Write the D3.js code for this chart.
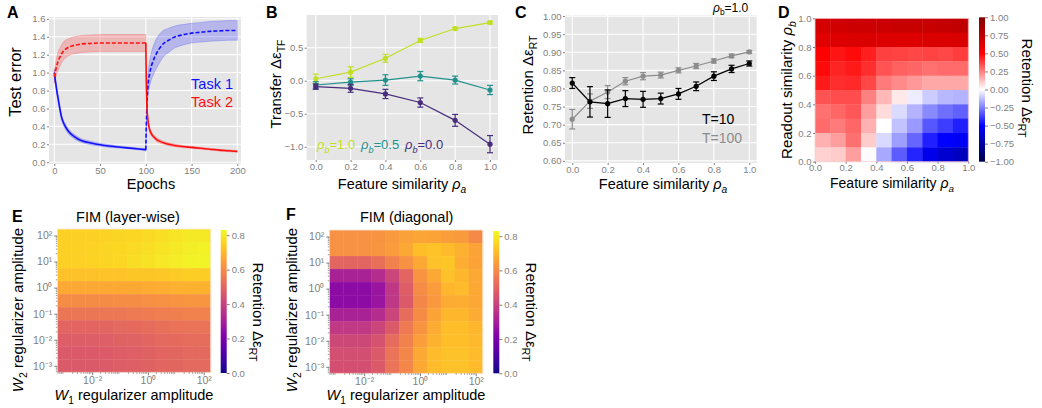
<!DOCTYPE html>
<html>
<head>
<meta charset="utf-8">
<script src="https://cdn.jsdelivr.net/npm/d3@7"></script>
<style>
  body { margin: 0; background: #fff; }
  text { font-family: "Liberation Sans", Arial, sans-serif; }
</style>
</head>
<body>
<svg id="fig" width="1042" height="408"></svg>
<script>
// ---------- Panel A: test error over epochs ----------
const epochsPhase1 = [0, 1, 2, 3, 4, 5, 6, 8, 10, 12, 15, 20, 25, 30, 40, 50, 60, 70, 80, 90, 100];
const task1Phase1 = [1.0, 0.92, 0.85, 0.78, 0.72, 0.66, 0.6, 0.5, 0.44, 0.4, 0.35, 0.3, 0.265, 0.24, 0.215, 0.195, 0.18, 0.17, 0.16, 0.15, 0.14];
const task1Phase1Sd = [0.04, 0.04, 0.04, 0.04, 0.035, 0.035, 0.035, 0.03, 0.03, 0.03, 0.03, 0.025, 0.025, 0.02, 0.02, 0.015, 0.015, 0.012, 0.01, 0.01, 0.01];
const task2Phase1 = [0.95, 1.0, 1.05, 1.09, 1.12, 1.15, 1.17, 1.21, 1.24, 1.26, 1.28, 1.3, 1.31, 1.32, 1.325, 1.33, 1.33, 1.33, 1.33, 1.33, 1.33];
const task2Phase1Sd = [0.07, 0.08, 0.09, 0.1, 0.1, 0.1, 0.1, 0.1, 0.1, 0.1, 0.095, 0.095, 0.095, 0.095, 0.095, 0.095, 0.095, 0.095, 0.095, 0.095, 0.095];
const epochsPhase2 = [100, 100.5, 101, 102, 103, 104, 105, 106, 108, 110, 112, 115, 120, 125, 130, 140, 150, 160, 170, 180, 190, 200];
const task1Phase2 = [0.14, 0.4, 0.6, 0.8, 0.92, 0.98, 1.03, 1.07, 1.13, 1.18, 1.22, 1.27, 1.33, 1.36, 1.39, 1.42, 1.44, 1.45, 1.46, 1.465, 1.47, 1.47];
const task1Phase2Sd = [0.02, 0.05, 0.1, 0.12, 0.13, 0.14, 0.145, 0.15, 0.16, 0.165, 0.165, 0.16, 0.145, 0.135, 0.125, 0.115, 0.11, 0.11, 0.11, 0.11, 0.11, 0.11];
const task2Phase2 = [1.33, 0.9, 0.66, 0.5, 0.42, 0.37, 0.34, 0.32, 0.29, 0.27, 0.25, 0.235, 0.215, 0.2, 0.19, 0.175, 0.165, 0.155, 0.145, 0.135, 0.128, 0.12];
const task2Phase2Sd = [0.01, 0.02, 0.03, 0.03, 0.03, 0.025, 0.025, 0.025, 0.02, 0.02, 0.02, 0.02, 0.015, 0.015, 0.015, 0.012, 0.01, 0.01, 0.01, 0.01, 0.01, 0.01];
const epochTicks = [0, 50, 100, 150, 200];
const errorTicks = [0, 0.2, 0.4, 0.6, 0.8, 1.0, 1.2, 1.4, 1.6];
const taskNames = ['Task 1', 'Task 2'];

// ---------- Panel B: transfer vs feature similarity ----------
const featureSimB = [0, 0.2, 0.4, 0.6, 0.8, 1.0];
const transferRho10 = [0.03, 0.13, 0.34, 0.61, 0.79, 0.88];
const transferRho10Err = [0.07, 0.08, 0.06, 0.03, 0.02, 0.02];
const transferRho05 = [-0.065, -0.02, 0.01, 0.07, 0.01, -0.14];
const transferRho05Err = [0.05, 0.05, 0.08, 0.07, 0.06, 0.07];
const transferRho00 = [-0.09, -0.115, -0.2, -0.33, -0.6, -0.96];
const transferRho00Err = [0.04, 0.06, 0.07, 0.07, 0.09, 0.13];
const readoutLabels = ['1.0', '0.5', '0.0'];
const simTicks = [0, 0.2, 0.4, 0.6, 0.8, 1.0];
const transferTicks = [-1.0, -0.5, 0.0, 0.5];

// ---------- Panel C: retention vs feature similarity ----------
const featureSimC = [0, 0.1, 0.2, 0.3, 0.4, 0.5, 0.6, 0.7, 0.8, 0.9, 1.0];
const retentionT10 = [0.815, 0.763, 0.758, 0.772, 0.77, 0.772, 0.785, 0.806, 0.834, 0.854, 0.869];
const retentionT10Err = [0.015, 0.042, 0.038, 0.022, 0.022, 0.015, 0.015, 0.012, 0.012, 0.01, 0.007];
const retentionT100 = [0.715, 0.765, 0.79, 0.82, 0.834, 0.837, 0.85, 0.862, 0.876, 0.89, 0.901];
const retentionT100Err = [0.027, 0.02, 0.018, 0.01, 0.01, 0.008, 0.007, 0.007, 0.006, 0.005, 0.004];
const retentionTicksC = [0.6, 0.65, 0.7, 0.75, 0.8, 0.85, 0.9, 0.95, 1.0];
const horizonLabels = ['T=10', 'T=100'];

// ---------- Panel D: retention over (rho_a, rho_b) ----------
const featureBins = [0, 0.1, 0.2, 0.3, 0.4, 0.5, 0.6, 0.7, 0.8, 0.9];
const readoutBins = [0.9, 0.8, 0.7, 0.6, 0.5, 0.4, 0.3, 0.2, 0.1, 0.0];
const retentionGrid = [
  [0.67, 0.68, 0.70, 0.70, 0.70, 0.72, 0.72, 0.72, 0.73, 0.75],
  [0.62, 0.63, 0.64, 0.64, 0.63, 0.63, 0.63, 0.64, 0.64, 0.65],
  [0.50, 0.46, 0.48, 0.44, 0.375, 0.37, 0.36, 0.37, 0.36, 0.38],
  [0.48, 0.43, 0.45, 0.41, 0.34, 0.31, 0.30, 0.28, 0.29, 0.29],
  [0.45, 0.41, 0.42, 0.36, 0.26, 0.23, 0.20, 0.17, 0.17, 0.17],
  [0.34, 0.35, 0.35, 0.25, 0.14, 0.045, -0.035, -0.10, -0.14, -0.15],
  [0.28, 0.30, 0.33, 0.19, 0.07, -0.07, -0.15, -0.23, -0.28, -0.31],
  [0.29, 0.26, 0.30, 0.155, 0.0, -0.12, -0.20, -0.33, -0.38, -0.44],
  [0.155, 0.19, 0.28, 0.10, -0.075, -0.19, -0.30, -0.44, -0.50, -0.53],
  [0.09, 0.10, 0.19, -0.005, -0.17, -0.32, -0.43, -0.56, -0.63, -0.68]
];
const gridTicksD = [0, 0.2, 0.4, 0.6, 0.8, 1.0];
const retentionTicksD = [-1.0, -0.75, -0.5, -0.25, 0, 0.25, 0.5, 0.75, 1.0];

// ---------- Panels E, F: FIM regularizer sweeps ----------
const w1Exponents = [-3, -2.5, -2, -1.5, -1, -0.5, 0, 0.5, 1, 1.5, 2];
const w2Exponents = [2, 1.5, 1, 0.5, 0, -0.5, -1, -1.5, -2, -2.5, -3];
const fimLayerwise = [
  [0.75, 0.75, 0.75, 0.755, 0.76, 0.765, 0.77, 0.78, 0.79, 0.80, 0.80],
  [0.75, 0.75, 0.755, 0.76, 0.765, 0.77, 0.78, 0.79, 0.80, 0.81, 0.815],
  [0.75, 0.75, 0.755, 0.76, 0.765, 0.775, 0.785, 0.795, 0.805, 0.815, 0.82],
  [0.72, 0.72, 0.72, 0.725, 0.725, 0.73, 0.73, 0.735, 0.74, 0.745, 0.745],
  [0.665, 0.665, 0.665, 0.665, 0.67, 0.67, 0.675, 0.68, 0.685, 0.69, 0.69],
  [0.60, 0.60, 0.60, 0.60, 0.605, 0.605, 0.61, 0.615, 0.62, 0.625, 0.625],
  [0.545, 0.545, 0.545, 0.55, 0.55, 0.555, 0.56, 0.565, 0.57, 0.575, 0.575],
  [0.50, 0.50, 0.50, 0.505, 0.51, 0.515, 0.52, 0.53, 0.535, 0.54, 0.54],
  [0.48, 0.48, 0.48, 0.485, 0.49, 0.495, 0.50, 0.51, 0.515, 0.52, 0.52],
  [0.47, 0.47, 0.47, 0.475, 0.48, 0.485, 0.49, 0.50, 0.505, 0.51, 0.51],
  [0.47, 0.47, 0.47, 0.475, 0.48, 0.485, 0.49, 0.50, 0.505, 0.51, 0.51]
];
const fimDiagonal = [
  [0.615, 0.615, 0.615, 0.62, 0.635, 0.65, 0.66, 0.655, 0.645, 0.635, 0.595],
  [0.615, 0.615, 0.615, 0.625, 0.64, 0.665, 0.715, 0.725, 0.71, 0.685, 0.655],
  [0.50, 0.50, 0.50, 0.53, 0.575, 0.615, 0.665, 0.72, 0.73, 0.68, 0.655],
  [0.31, 0.31, 0.31, 0.34, 0.41, 0.50, 0.62, 0.665, 0.72, 0.70, 0.665],
  [0.24, 0.24, 0.24, 0.27, 0.37, 0.48, 0.60, 0.64, 0.70, 0.71, 0.665],
  [0.24, 0.24, 0.24, 0.27, 0.37, 0.47, 0.59, 0.63, 0.675, 0.68, 0.665],
  [0.31, 0.31, 0.31, 0.34, 0.41, 0.52, 0.60, 0.655, 0.70, 0.70, 0.675],
  [0.375, 0.375, 0.375, 0.41, 0.47, 0.555, 0.62, 0.675, 0.715, 0.715, 0.70],
  [0.42, 0.42, 0.42, 0.45, 0.52, 0.575, 0.645, 0.69, 0.715, 0.715, 0.705],
  [0.44, 0.44, 0.44, 0.47, 0.54, 0.59, 0.665, 0.71, 0.72, 0.72, 0.71],
  [0.44, 0.44, 0.44, 0.47, 0.54, 0.59, 0.665, 0.71, 0.72, 0.72, 0.71]
];
const yLogTicks = [-3, -2, -1, 0, 1, 2];
const yLogLabels = ['10⁻³', '10⁻²', '10⁻¹', '10⁰', '10¹', '10²'];
const xLogTicks = [-2, 0, 2];
const xLogLabels = ['10⁻²', '10⁰', '10²'];
const fimTicks = [0, 0.2, 0.4, 0.6, 0.8];

// ---------- helpers ----------
const svg = d3.select('#fig');
const defs = svg.append('defs');
const GREY = '#7f7f7f';

function styleAxis(sel, size = 9.5) {
  sel.select('.domain').remove();
  sel.attr('font-family', '"DejaVu Sans", Verdana, sans-serif').attr('font-size', size);
  sel.selectAll('.tick line').attr('stroke', GREY);
  sel.selectAll('.tick text').attr('fill', GREY);
}

function ggBackground(x, y, xTicks, yTicks) {
  const [x0, x1] = x.range(), [y0, y1] = y.range();
  svg.append('rect').attr('x', x0).attr('y', y1)
    .attr('width', x1 - x0).attr('height', y0 - y1).attr('fill', '#e5e5e5');
  svg.append('g').selectAll('line').data(xTicks).join('line')
    .attr('x1', d => x(d)).attr('x2', d => x(d)).attr('y1', y1).attr('y2', y0)
    .attr('stroke', '#fff').attr('stroke-width', 1.1);
  svg.append('g').selectAll('line').data(yTicks).join('line')
    .attr('y1', d => y(d)).attr('y2', d => y(d)).attr('x1', x0).attr('x2', x1)
    .attr('stroke', '#fff').attr('stroke-width', 1.1);
}

function axes(x, y, xTicks, yTicks, fx, fy) {
  svg.append('g').attr('transform', `translate(0,${y.range()[0]})`)
    .call(d3.axisBottom(x).tickValues(xTicks).tickFormat(fx).tickSize(2).tickPadding(1.5))
    .call(styleAxis);
  svg.append('g').attr('transform', `translate(${x.range()[0]},0)`)
    .call(d3.axisLeft(y).tickValues(yTicks).tickFormat(fy).tickSize(2).tickPadding(1.5))
    .call(styleAxis);
}

// rich text: parts = [{t, sub, it}]
function richText(x, y, parts, opt = {}) {
  const size = opt.size || 15;
  const t = svg.append('text').attr('x', x).attr('y', y)
    .attr('font-size', size).attr('text-anchor', opt.anchor || 'middle')
    .attr('fill', opt.fill || '#000');
  if (opt.rotate) t.attr('transform', `rotate(${opt.rotate},${x},${y})`);
  let shift = 0;
  parts.forEach(p => {
    const ts = t.append('tspan').text(p.t);
    const want = p.sub ? size * 0.28 : 0;
    if (want - shift) ts.attr('dy', want - shift);
    shift = want;
    if (p.sub) ts.attr('font-size', size * 0.7);
    if (p.it) ts.attr('font-style', 'italic');
  });
  return t;
}

function panelLetter(x, y, s) {
  svg.append('text').attr('x', x).attr('y', y).attr('font-size', 16)
    .attr('font-weight', 'bold').text(s);
}

function colorbar(x0, x1, y0, y1, scale, ticks, fmt, id) {
  const dom = scale.domain();
  const lo = dom[0], hi = dom[dom.length - 1];
  const grad = defs.append('linearGradient').attr('id', id)
    .attr('x1', 0).attr('y1', 1).attr('x2', 0).attr('y2', 0);
  d3.range(0, 1.0001, 0.02).forEach(f => {
    grad.append('stop').attr('offset', f).attr('stop-color', scale(lo + f * (hi - lo)));
  });
  svg.append('rect').attr('x', x0).attr('y', y0).attr('width', x1 - x0).attr('height', y1 - y0)
    .attr('fill', `url(#${id})`);
  const cy = d3.scaleLinear().domain([lo, hi]).range([y1, y0]);
  svg.append('g').attr('transform', `translate(${x1},0)`)
    .call(d3.axisRight(cy).tickValues(ticks).tickFormat(fmt).tickSize(3).tickPadding(2))
    .call(styleAxis);
}

// ---------- Panel A ----------
{
  const x = d3.scaleLinear().domain([-5.8, 204]).range([49, 241]);
  const y = d3.scaleLinear().domain([-0.02, 1.62]).range([164, 17]);
  ggBackground(x, y, epochTicks, errorTicks);

  const BLUE = '#1010ff', RED = '#ff1010';
  const series = [
    { ep: epochsPhase1, m: task1Phase1, sd: task1Phase1Sd, c: BLUE, dash: null },
    { ep: epochsPhase1, m: task2Phase1, sd: task2Phase1Sd, c: RED, dash: '4,2' },
    { ep: epochsPhase2, m: task1Phase2, sd: task1Phase2Sd, c: BLUE, dash: '4,2' },
    { ep: epochsPhase2, m: task2Phase2, sd: task2Phase2Sd, c: RED, dash: null }
  ];
  const area = d3.area().x(d => x(d[0])).y0(d => y(d[1] - d[2])).y1(d => y(d[1] + d[2]))
    .curve(d3.curveMonotoneX);
  const line = d3.line().x(d => x(d[0])).y(d => y(d[1])).curve(d3.curveMonotoneX);
  series.forEach(s => {
    const pts = s.ep.map((e, i) => [e, s.m[i], s.sd[i]]);
    svg.append('path').attr('d', area(pts)).attr('fill', s.c).attr('fill-opacity', 0.22)
      .attr('stroke', s.c).attr('stroke-opacity', 0.25).attr('stroke-width', 0.8);
  });
  series.forEach(s => {
    const pts = s.ep.map((e, i) => [e, s.m[i]]);
    svg.append('path').attr('d', line(pts)).attr('fill', 'none').attr('stroke', s.c)
      .attr('stroke-width', 1.6).attr('stroke-dasharray', s.dash);
  });
  axes(x, y, epochTicks, errorTicks, d3.format('d'), d3.format('.1f'));

  svg.append('text').attr('x', 233).attr('y', 89).attr('text-anchor', 'end')
    .attr('font-size', 14.5).attr('fill', BLUE).text(taskNames[0]);
  svg.append('text').attr('x', 233).attr('y', 107).attr('text-anchor', 'end')
    .attr('font-size', 14.5).attr('fill', RED).text(taskNames[1]);

  richText(21, 82, [{ t: 'Test error' }], { rotate: -90, size: 16.5 });
  richText(151, 189, [{ t: 'Epochs' }], { size: 14.5 });
  panelLetter(7, 18, 'A');
}

// ---------- Panel B ----------
{
  const x = d3.scaleLinear().domain([-0.052, 1.046]).range([306.7, 498]);
  const y = d3.scaleLinear().domain([-1.2, 0.995]).range([160, 15]);
  ggBackground(x, y, simTicks, transferTicks);
  const colors = ['#c2df23', '#22918c', '#472d7b'];
  const sets = [
    [transferRho10, transferRho10Err],
    [transferRho05, transferRho05Err],
    [transferRho00, transferRho00Err]
  ];
  const line = d3.line().x((d, i) => x(featureSimB[i])).y(d => y(d));
  sets.forEach(([m, e], k) => {
    const g = svg.append('g').attr('stroke', colors[k]).attr('fill', colors[k]);
    g.append('path').attr('d', line(m)).attr('fill', 'none').attr('stroke-width', 1.2);
    featureSimB.forEach((fx, i) => {
      const cx = x(fx);
      g.append('line').attr('x1', cx).attr('x2', cx).attr('y1', y(m[i] - e[i])).attr('y2', y(m[i] + e[i])).attr('stroke-width', 1.2);
      g.append('line').attr('x1', cx - 3).attr('x2', cx + 3).attr('y1', y(m[i] - e[i])).attr('y2', y(m[i] - e[i])).attr('stroke-width', 1.2);
      g.append('line').attr('x1', cx - 3).attr('x2', cx + 3).attr('y1', y(m[i] + e[i])).attr('y2', y(m[i] + e[i])).attr('stroke-width', 1.2);
      g.append('circle').attr('cx', cx).attr('cy', y(m[i])).attr('r', 2.6).attr('stroke', 'none');
    });
  });
  axes(x, y, simTicks, transferTicks, d3.format('.1f'), d3.format('.1f'));
  const legX = [317, 361, 405];
  readoutLabels.forEach((lab, k) => {
    richText(legX[k], 149, [{ t: 'ρ', it: true }, { t: 'b', sub: true, it: true }, { t: '=' + lab }],
      { size: 13, anchor: 'start', fill: colors[k] });
  });
  richText(281, 84, [{ t: 'Transfer Δε' }, { t: 'TF', sub: true }], { rotate: -90 });
  richText(402, 189, [{ t: 'Feature similarity ' }, { t: 'ρ', it: true }, { t: 'a', sub: true, it: true }], { size: 14.5 });
  panelLetter(266, 18, 'B');
}

// ---------- Panel C ----------
{
  const x = d3.scaleLinear().domain([-0.041, 1.042]).range([565, 756.7]);
  const y = d3.scaleLinear().domain([0.594, 1.003]).range([163, 15]);
  ggBackground(x, y, simTicks, retentionTicksC);
  const colors = ['#000000', '#8c8c8c'];
  const sets = [[retentionT100, retentionT100Err, 1], [retentionT10, retentionT10Err, 0]];
  const line = d3.line().x((d, i) => x(featureSimC[i])).y(d => y(d));
  sets.forEach(([m, e, k]) => {
    const g = svg.append('g').attr('stroke', colors[k]).attr('fill', colors[k]);
    g.append('path').attr('d', line(m)).attr('fill', 'none').attr('stroke-width', 1.2);
    featureSimC.forEach((fx, i) => {
      const cx = x(fx);
      g.append('line').attr('x1', cx).attr('x2', cx).attr('y1', y(m[i] - e[i])).attr('y2', y(m[i] + e[i])).attr('stroke-width', 1.2);
      g.append('line').attr('x1', cx - 3).attr('x2', cx + 3).attr('y1', y(m[i] - e[i])).attr('y2', y(m[i] - e[i])).attr('stroke-width', 1.2);
      g.append('line').attr('x1', cx - 3).attr('x2', cx + 3).attr('y1', y(m[i] + e[i])).attr('y2', y(m[i] + e[i])).attr('stroke-width', 1.2);
      g.append('circle').attr('cx', cx).attr('cy', y(m[i])).attr('r', 2.6).attr('stroke', 'none');
    });
  });
  axes(x, y, simTicks, retentionTicksC, d3.format('.1f'), d3.format('.2f'));
  svg.append('text').attr('x', 702).attr('y', 124).attr('font-size', 14).attr('fill', colors[0]).text(horizonLabels[0]);
  svg.append('text').attr('x', 702).attr('y', 143).attr('font-size', 14).attr('fill', colors[1]).text(horizonLabels[1]);
  richText(713, 12, [{ t: 'ρ', it: true }, { t: 'b', sub: true }, { t: '=1.0' }], { size: 12, anchor: 'start' });
  richText(533, 85, [{ t: 'Retention Δε' }, { t: 'RT', sub: true }], { rotate: -90 });
  richText(663, 189, [{ t: 'Feature similarity ' }, { t: 'ρ', it: true }, { t: 'a', sub: true, it: true }], { size: 14.5 });
  panelLetter(515, 18, 'C');
}

// ---------- Panel D ----------
{
  const x = d3.scaleLinear().domain([0, 1]).range([815, 968.3]);
  const y = d3.scaleLinear().domain([0, 1]).range([161.7, 18.3]);
  const color = d3.scaleLinear().domain([-1, -0.5, 0, 0.5, 1])
    .range(['#00004c', '#0000ff', '#ffffff', '#ff0000', '#800000']);
  const cells = [];
  readoutBins.forEach((rb, r) => featureBins.forEach((fa, c) => cells.push({ fa, rb, v: retentionGrid[r][c] })));
  svg.append('g').selectAll('rect').data(cells).join('rect')
    .attr('x', d => x(d.fa)).attr('y', d => y(d.rb + 0.1))
    .attr('width', x(0.1) - x(0) + 0.4).attr('height', y(0) - y(0.1) + 0.4)
    .attr('fill', d => color(d.v));
  svg.append('rect').attr('x', 815).attr('y', 18.3).attr('width', 153.3).attr('height', 143.4)
    .attr('fill', 'none').attr('stroke', '#f4d0d0').attr('stroke-width', 0.8);
  svg.append('g').attr('transform', `translate(0,${y.range()[0]})`)
    .call(d3.axisBottom(x).tickValues(gridTicksD).tickFormat(d3.format('.1f')).tickSize(2).tickPadding(1))
    .call(styleAxis);
  svg.append('g').attr('transform', `translate(${x.range()[0]},0)`)
    .call(d3.axisLeft(y).tickValues(gridTicksD).tickFormat(d3.format('.1f')).tickSize(2).tickPadding(1.5))
    .call(styleAxis);
  colorbar(979, 985, 17.3, 161.7, color, retentionTicksD, d3.format('.2f'), 'seis');
  richText(1022, 88, [{ t: 'Retention Δε' }, { t: 'RT', sub: true }], { rotate: 90 });
  richText(792, 90, [{ t: 'Readout similarity ' }, { t: 'ρ', it: true }, { t: 'b', sub: true, it: true }], { rotate: -90 });
  richText(892, 188, [{ t: 'Feature similarity ' }, { t: 'ρ', it: true }, { t: 'a', sub: true, it: true }], { size: 14 });
  panelLetter(778, 18, 'D');
}

// ---------- Panels E, F ----------
function fimPanel(grid, x0, x1, y0, y1, cb, title, titleX, letter, letterX, letterY, ylabX, cbLabX, id) {
  const x = d3.scaleLog().domain([Math.pow(10, -3.25), Math.pow(10, 2.25)]).range([x0, x1]);
  const y = d3.scaleLog().domain([Math.pow(10, -3.25), Math.pow(10, 2.25)]).range([y1, y0]);
  const cscale = d3.scaleSequential(d3.interpolatePlasma).domain([0, 0.83]);
  const cells = [];
  w2Exponents.forEach((e2, r) => w1Exponents.forEach((e1, c) => cells.push({ e1, e2, v: grid[r][c] })));
  svg.append('g').selectAll('rect').data(cells).join('rect')
    .attr('x', d => x(Math.pow(10, d.e1 - 0.25)))
    .attr('y', d => y(Math.pow(10, d.e2 + 0.25)))
    .attr('width', d => x(Math.pow(10, d.e1 + 0.25)) - x(Math.pow(10, d.e1 - 0.25)) + 0.4)
    .attr('height', d => y(Math.pow(10, d.e2 - 0.25)) - y(Math.pow(10, d.e2 + 0.25)) + 0.4)
    .attr('fill', d => cscale(d.v));
  svg.append('rect').attr('x', x0).attr('y', y0).attr('width', x1 - x0).attr('height', y1 - y0)
    .attr('fill', 'none').attr('stroke', '#fbe9d8').attr('stroke-width', 0.8);

  const minor = [];
  d3.range(-4, 3).forEach(k => d3.range(2, 10).forEach(m => {
    const v = m * Math.pow(10, k);
    if (v > x.domain()[0] && v < x.domain()[1]) minor.push(v);
  }));
  svg.append('g').selectAll('line').data(minor).join('line')
    .attr('x1', x0 - 1.5).attr('x2', x0).attr('y1', d => y(d)).attr('y2', d => y(d))
    .attr('stroke', GREY).attr('stroke-width', 0.8);
  svg.append('g').selectAll('line').data(minor).join('line')
    .attr('y1', y1).attr('y2', y1 + 1.5).attr('x1', d => x(d)).attr('x2', d => x(d))
    .attr('stroke', GREY).attr('stroke-width', 0.8);

  svg.append('g').attr('transform', `translate(0,${y1})`)
    .call(d3.axisBottom(x).tickValues(xLogTicks.map(e => Math.pow(10, e)))
      .tickFormat((d, i) => xLogLabels[i]).tickSize(3).tickPadding(1))
    .call(styleAxis, 10.5);
  svg.append('g').attr('transform', `translate(${x0},0)`)
    .call(d3.axisLeft(y).tickValues(yLogTicks.map(e => Math.pow(10, e)))
      .tickFormat((d, i) => yLogLabels[i]).tickSize(3).tickPadding(2))
    .call(styleAxis, 10.5);

  colorbar(cb[0], cb[1], cb[2], cb[3], cscale, fimTicks, d3.format('.1f'), id);
  svg.append('text').attr('x', titleX).attr('y', 222).attr('text-anchor', 'middle')
    .attr('font-size', 14.5).text(title);
  richText(ylabX, 310, [{ t: 'W', it: true }, { t: '2', sub: true }, { t: ' regularizer amplitude' }], { rotate: -90 });
  richText((x0 + x1) / 2, 400, [{ t: 'W', it: true }, { t: '1', sub: true }, { t: ' regularizer amplitude' }], { size: 14.5 });
  richText(cbLabX, 312, [{ t: 'Retention Δε' }, { t: 'RT', sub: true }], { rotate: 90 });
  panelLetter(letterX, letterY, letter);
}
fimPanel(fimLayerwise, 57.3, 210.7, 229, 372.3, [220.7, 226.7, 230, 373], 'FIM (layer-wise)', 128,
  'E', 12, 222, 23, 253, 'plasE');
fimPanel(fimDiagonal, 329.3, 482.7, 230, 373.3, [493.3, 499.3, 231, 373.3], 'FIM (diagonal)', 406.7,
  'F', 286, 220, 297, 526, 'plasF');
</script>
</body>
</html>
